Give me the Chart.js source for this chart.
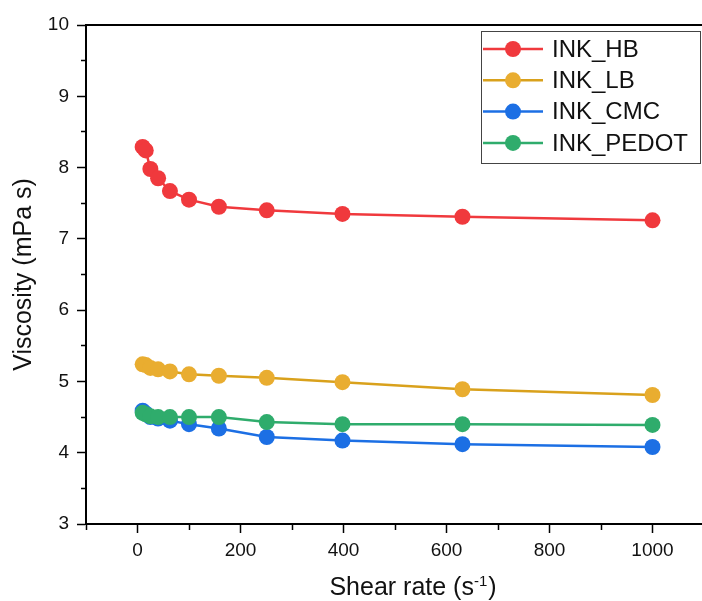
<!DOCTYPE html>
<html>
<head>
<meta charset="utf-8">
<script src="https://cdn.jsdelivr.net/npm/chart.js@4.4.1/dist/chart.umd.min.js"></script>
<style>
  html, body { margin: 0; padding: 0; background: #fff; overflow: hidden; }
  #wrap { width: 702px; height: 601px; overflow: hidden; }
</style>
</head>
<body>
<div id="wrap"><canvas id="chart" width="712" height="601"></canvas></div>
<script>
// shear rate (1/s) and viscosity (mPa s)
const shearRates = [10, 16, 25, 40, 63, 100, 158, 251, 398, 631, 1000];
const inkHB    = [8.29, 8.24, 7.98, 7.85, 7.67, 7.55, 7.45, 7.40, 7.35, 7.31, 7.26];
const inkLB    = [5.24, 5.23, 5.19, 5.17, 5.14, 5.10, 5.08, 5.05, 4.99, 4.89, 4.81];
const inkCMC   = [4.59, 4.55, 4.50, 4.48, 4.45, 4.40, 4.34, 4.22, 4.17, 4.12, 4.08];
const inkPEDOT = [4.56, 4.54, 4.51, 4.50, 4.50, 4.50, 4.50, 4.43, 4.40, 4.40, 4.39];

const seriesNames = ['INK_HB', 'INK_LB', 'INK_CMC', 'INK_PEDOT'];
const xMajorTicks = [0, 200, 400, 600, 800, 1000];
const yMajorTicks = [3, 4, 5, 6, 7, 8, 9, 10];

const FONT = '"Liberation Sans", Arial, sans-serif';

function toPoints(ys) {
    return shearRates.map((x, i) => ({ x: x, y: ys[i] }));
}

function makeSeries(label, ys, lineColor, dotColor, order) {
    return {
        label: label,
        data: toPoints(ys),
        borderColor: lineColor,
        backgroundColor: dotColor,
        pointBackgroundColor: dotColor,
        pointBorderColor: dotColor,
        pointRadius: 8,
        pointBorderWidth: 0,
        borderWidth: 2.5,
        tension: 0,
        order: order
    };
}

// top + right frame of the plot box
const framePlugin = {
    id: 'frame',
    afterDraw(chart) {
        const { ctx, chartArea: a } = chart;
        ctx.save();
        ctx.strokeStyle = '#000';
        ctx.lineWidth = 2;
        ctx.beginPath();
        ctx.moveTo(a.left, a.top);
        ctx.lineTo(a.right, a.top);
        ctx.lineTo(a.right, a.bottom);
        ctx.stroke();
        ctx.restore();
    }
};

// boxed legend in the upper right, line + dot samples
const boxLegendPlugin = {
    id: 'boxLegend',
    afterDraw(chart) {
        const { ctx, chartArea: a } = chart;
        const left = a.left + 395, top = a.top + 6;
        const width = 219, height = 132;
        ctx.save();
        ctx.strokeStyle = '#444';
        ctx.lineWidth = 1;
        ctx.strokeRect(left + 0.5, top + 0.5, width, height);
        ctx.font = '24px ' + FONT;
        ctx.textBaseline = 'middle';
        chart.data.datasets.forEach((ds, i) => {
            const y = top + 18 + i * 31.3;
            ctx.strokeStyle = ds.borderColor;
            ctx.lineWidth = 2.5;
            ctx.beginPath();
            ctx.moveTo(left + 2, y);
            ctx.lineTo(left + 62, y);
            ctx.stroke();
            ctx.fillStyle = ds.pointBackgroundColor;
            ctx.beginPath();
            ctx.arc(left + 32, y, 8, 0, Math.PI * 2);
            ctx.fill();
            ctx.fillStyle = '#111';
            ctx.fillText(ds.label, left + 71, y + 1);
        });
        ctx.restore();
    }
};

// x title with a real superscript
const xTitlePlugin = {
    id: 'xTitle',
    afterDraw(chart) {
        const { ctx, chartArea: a } = chart;
        const cx = a.left + 327, baseline = a.bottom + 71;
        const main = 'Shear rate (s', sup = '-1', tail = ')';
        ctx.save();
        ctx.fillStyle = '#111';
        ctx.textBaseline = 'alphabetic';
        ctx.font = '25px ' + FONT;
        const w1 = ctx.measureText(main).width;
        const w3 = ctx.measureText(tail).width;
        ctx.font = '15px ' + FONT;
        const w2 = ctx.measureText(sup).width;
        let x = cx - (w1 + w2 + w3 + 1) / 2;
        ctx.font = '25px ' + FONT;
        ctx.fillText(main, x, baseline);
        x += w1;
        ctx.font = '15px ' + FONT;
        ctx.fillText(sup, x, baseline - 9);
        x += w2 + 1;
        ctx.font = '25px ' + FONT;
        ctx.fillText(tail, x, baseline);
        ctx.restore();
    }
};

const ctx = document.getElementById('chart').getContext('2d');

new Chart(ctx, {
    type: 'line',
    data: {
        datasets: [
            makeSeries(seriesNames[0], inkHB, '#f0393d', '#f0393d', 3),
            makeSeries(seriesNames[1], inkLB, '#d9a11c', '#e9ad30', 2),
            makeSeries(seriesNames[2], inkCMC, '#1c6fe4', '#1c6fe4', 1),
            makeSeries(seriesNames[3], inkPEDOT, '#2fac6c', '#2fac6c', 0)
        ]
    },
    options: {
        responsive: false,
        animation: false,
        layout: { padding: { top: 25, right: 4, left: 0, bottom: 0 } },
        scales: {
            x: {
                type: 'linear',
                min: -100,
                max: 1100,
                afterFit(scale) { scale.height = 77; },
                border: { color: '#000', width: 2 },
                grid: {
                    drawOnChartArea: false,
                    drawTicks: true,
                    tickLength: 9,
                    tickColor: '#000',
                    tickWidth: 1.5,
                    tickBorderDash: (c) => xMajorTicks.includes(c.tick && c.tick.value) ? [] : [5, 100]
                },
                ticks: {
                    stepSize: 100,
                    autoSkip: false,
                    maxRotation: 0,
                    padding: 6,
                    color: '#111',
                    font: { size: 19, family: FONT },
                    callback: (v) => xMajorTicks.includes(v) ? String(v) : ''
                },
                title: { display: false }
            },
            y: {
                min: 3,
                max: 10,
                afterFit(scale) { scale.width = 86; },
                border: { color: '#000', width: 2 },
                grid: {
                    drawOnChartArea: false,
                    drawTicks: true,
                    tickLength: 9,
                    tickColor: '#000',
                    tickWidth: 1.5,
                    tickBorderDash: (c) => yMajorTicks.includes(c.tick && c.tick.value) ? [] : [0, 4, 5, 100]
                },
                ticks: {
                    stepSize: 0.5,
                    autoSkip: false,
                    padding: 8,
                    color: '#111',
                    font: { size: 19, family: FONT },
                    callback: (v) => yMajorTicks.includes(v) ? String(v) : ''
                },
                title: {
                    display: true,
                    text: 'Viscosity (mPa s)',
                    color: '#111',
                    font: { size: 25, family: FONT },
                    padding: { top: 9, bottom: 0 }
                }
            }
        },
        plugins: {
            legend: { display: false },
            tooltip: { enabled: false }
        }
    },
    plugins: [framePlugin, boxLegendPlugin, xTitlePlugin]
});
</script>
</body>
</html>
